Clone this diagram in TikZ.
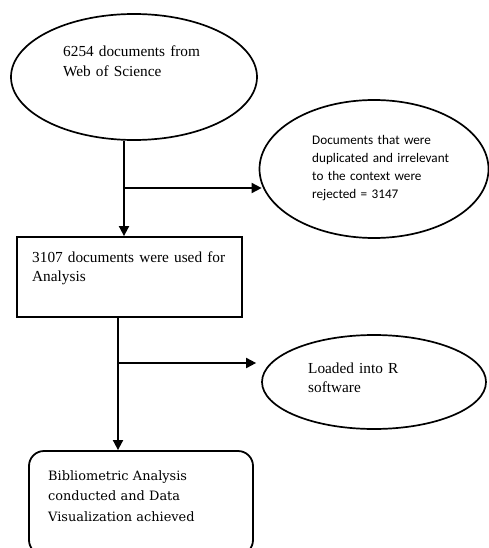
\documentclass[tikz,border=0pt]{standalone}
\usepackage{fontspec}
\setmainfont{Liberation Serif}
\newfontfamily\calibrifont{Carlito}
\newfontfamily\cambriafont{DejaVu Serif}
\usetikzlibrary{shapes.geometric,arrows.meta}
\begin{document}
\begin{tikzpicture}[x=1pt,y=-1pt,
  shapeline/.style={draw=black,line width=1.7pt,inner sep=0pt},
  oval/.style={shapeline,ellipse},
  plainbox/.style={shapeline,rectangle,line width=1.8pt},
  roundbox/.style={shapeline,rectangle,rounded corners=15pt,line width=1.8pt},
  arr/.style={line width=1.8pt,-{Triangle[length=10pt,width=10pt]}},
  timestext/.style={anchor=base west,inner sep=0pt,align=left,text width=220pt,
     font=\fontsize{15.3}{19.5}\selectfont},
  calibritext/.style={anchor=base west,inner sep=0pt,align=left,text width=180pt,
     font=\calibrifont\fontsize{13.2}{17.8}\selectfont},
  cambriatext/.style={anchor=base west,inner sep=0pt,align=left,text width=200pt,
     font=\cambriafont\fontsize{12.9}{20.5}\selectfont}]
\useasboundingbox (0,0) rectangle (489,548);

% shapes
\node[oval,minimum width=246pt,minimum height=126pt] (e1) at (134,77) {};
\node[oval,minimum width=229pt,minimum height=138pt] (e2) at (374,169) {};
\node[plainbox,minimum width=225pt,minimum height=80pt] (b1) at (129.5,277) {};
\node[oval,minimum width=224pt,minimum height=94pt] (e3) at (374,382) {};
\node[roundbox,minimum width=224pt,minimum height=104pt] (b2) at (141,503) {};

% texts
\node[timestext] (t1) at (63,57) {6254 documents from\\Web of Science};
\node[calibritext] (t2) at (312,145) {Documents that were\\duplicated and irrelevant\\to the context were\\rejected = 3147};
\node[timestext] (t3) at (32,262) {3107 documents were used for\\Analysis};
\node[timestext] (t4) at (308,373) {Loaded into R\\software};
\node[cambriatext] (t5) at (48,480) {Bibliometric Analysis\\conducted and Data\\Visualization achieved};

% connectors
\coordinate (j1) at (124,188);
\coordinate (j2) at (118,363);
\draw[arr] (e1.south -| j1) -- (b1.north -| j1);
\draw[arr] (j1) -- ([xshift=3pt]j1 -| e2.west);
\draw[arr] (b1.south -| j2) -- (b2.north -| j2);
\draw[arr] (j2) -- ([xshift=-5pt]j2 -| e3.west);
\end{tikzpicture}
\end{document}
